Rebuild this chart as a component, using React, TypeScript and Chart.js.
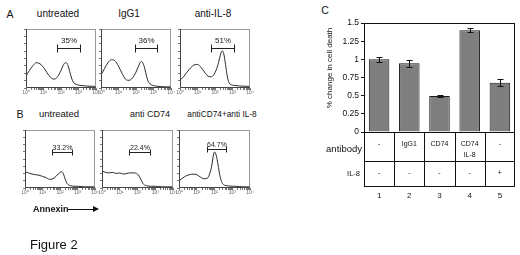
import React, { useEffect, useRef } from "react";
import { Chart, registerables } from "chart.js";

Chart.register(...registerables);

const FONT = "'Liberation Sans', Arial, sans-serif";

// ---------- Panels A/B : annexin histograms (x in log10 units, y = fraction of box height)
const LOG_X = [0, 0.2, 0.4, 0.6, 0.8, 1.0, 1.2, 1.4, 1.6, 1.8, 2.0, 2.1, 2.2, 2.3, 2.4, 2.5, 2.6, 2.7, 2.8, 3.0, 3.2, 3.4, 3.6, 3.8, 4.0];
const A_UNTREATED = [0.2, 0.3, 0.38, 0.43, 0.41, 0.35, 0.26, 0.18, 0.15, 0.19, 0.3, 0.37, 0.42, 0.43, 0.38, 0.28, 0.17, 0.1, 0.07, 0.05, 0.04, 0.035, 0.03, 0.03, 0.025];
const A_IGG1 = [0.22, 0.33, 0.43, 0.48, 0.46, 0.37, 0.25, 0.15, 0.13, 0.17, 0.27, 0.34, 0.41, 0.45, 0.42, 0.33, 0.2, 0.11, 0.07, 0.04, 0.03, 0.025, 0.02, 0.02, 0.02];
const A_ANTI_IL8 = [0.13, 0.19, 0.27, 0.34, 0.39, 0.4, 0.35, 0.27, 0.2, 0.19, 0.26, 0.33, 0.43, 0.55, 0.63, 0.58, 0.4, 0.2, 0.09, 0.05, 0.04, 0.035, 0.03, 0.03, 0.025];
const B_UNTREATED = [0.28, 0.26, 0.24, 0.23, 0.22, 0.2, 0.18, 0.15, 0.16, 0.21, 0.27, 0.28, 0.24, 0.15, 0.08, 0.05, 0.04, 0.035, 0.03, 0.03, 0.025, 0.02, 0.02, 0.02, 0.02];
const B_ANTI_CD74 = [0.29, 0.27, 0.26, 0.27, 0.25, 0.26, 0.24, 0.25, 0.26, 0.26, 0.24, 0.2, 0.14, 0.08, 0.05, 0.04, 0.035, 0.03, 0.03, 0.03, 0.025, 0.02, 0.02, 0.02, 0.02];
const B_CD74_IL8 = [0.13, 0.17, 0.21, 0.23, 0.24, 0.23, 0.19, 0.16, 0.17, 0.32, 0.62, 0.56, 0.4, 0.22, 0.11, 0.06, 0.045, 0.04, 0.035, 0.03, 0.03, 0.025, 0.02, 0.02, 0.02];

const TITLES_A = ["untreated", "IgG1", "anti-IL-8"];
const TITLES_B = ["untreated", "anti CD74", "antiCD74+anti IL-8"];
const BRACKET_START = [1.77, 1.96, 1.77, 1.53, 1.54, 1.56];
const BRACKET_END = [3.1, 3.2, 3.08, 2.67, 2.7, 2.63];
const BRACKET_LEVEL = [0.68, 0.67, 0.68, 0.62, 0.62, 0.67];
const BRACKET_LABELS = ["35%", "36%", "51%", "33.2%", "22.4%", "64.7%"];
const DECADE_LABELS = ["10⁰", "10¹", "10²", "10³", "10⁴"];

// ---------- Panel C : bar chart
const BAR_CATEGORIES = ["1", "2", "3", "4", "5"];
const BAR_VALUES = [1.0, 0.945, 0.495, 1.4, 0.678];
const BAR_ERRORS = [0.03, 0.05, 0.02, 0.03, 0.045];
const Y_TICK_LABELS = ["0", "0.25", "0.5", "0.75", "1", "1.25", "1.5"];
const ANTIBODY_ROW = ["-", "IgG1", "CD74", "CD74\nIL-8", "-"];
const IL8_ROW = ["-", "-", "-", "-", "+"];
const Y_TITLE = "% change in cell death";

type Box = { L: number; R: number; T: number; B: number };

const framePlugin = {
  id: "histFrame",
  afterDraw(chart: any) {
    const { ctx, chartArea: ca } = chart;
    ctx.save();
    ctx.lineWidth = 1;
    ctx.strokeStyle = "#9a9a9a";
    ctx.strokeRect(ca.left + 0.5, ca.top + 0.5, ca.right - ca.left - 1, ca.bottom - ca.top - 1);
    ctx.strokeStyle = "#444";
    ctx.beginPath();
    ctx.moveTo(ca.left + 0.5, ca.top);
    ctx.lineTo(ca.left + 0.5, ca.bottom - 0.5);
    ctx.lineTo(ca.right, ca.bottom - 0.5);
    ctx.stroke();
    ctx.restore();
  },
};

const bracketPlugin = {
  id: "bracket",
  afterDraw(chart: any, _a: any, opts: any) {
    const { ctx } = chart;
    const xs = chart.scales.x;
    const ys = chart.scales.y;
    const i = opts.index;
    const x1 = Math.round(xs.getPixelForValue(BRACKET_START[i])) + 0.5;
    const x2 = Math.round(xs.getPixelForValue(BRACKET_END[i])) + 0.5;
    const y = Math.round(ys.getPixelForValue(BRACKET_LEVEL[i])) + 0.5;
    ctx.save();
    ctx.strokeStyle = "#222";
    ctx.lineWidth = 1;
    ctx.beginPath();
    ctx.moveTo(x1, y);
    ctx.lineTo(x2, y);
    ctx.moveTo(x1, y - opts.cap);
    ctx.lineTo(x1, y + opts.cap);
    ctx.moveTo(x2, y - opts.cap);
    ctx.lineTo(x2, y + opts.cap);
    ctx.stroke();
    ctx.fillStyle = "#222";
    ctx.font = `${opts.fontSize}px ${FONT}`;
    ctx.textAlign = "center";
    ctx.textBaseline = "middle";
    ctx.fillText(BRACKET_LABELS[i], (x1 + x2) / 2, y - opts.gap);
    ctx.restore();
  },
};

function Histogram({ index, values, box, cap, fontSize, gap }: { index: number; values: number[]; box: Box; cap: number; fontSize: number; gap: number }) {
  const ref = useRef<HTMLCanvasElement>(null);
  const YW = 3, PR = 6, PT = 2, XH = 10;
  const width = box.R - box.L + YW + PR;
  const height = box.B - box.T + PT + XH;
  useEffect(() => {
    const chart = new Chart(ref.current as HTMLCanvasElement, {
      type: "line",
      data: {
        datasets: [
          {
            data: LOG_X.map((x, i) => ({ x, y: values[i] })),
            borderColor: "#2a2a2a",
            borderWidth: 1,
            pointRadius: 0,
            tension: 0.4,
            cubicInterpolationMode: "monotone",
            fill: false,
          },
        ],
      },
      options: {
        animation: false,
        responsive: false,
        maintainAspectRatio: false,
        events: [],
        layout: { padding: { top: PT, right: PR, left: 0, bottom: 0 } },
        plugins: {
          legend: { display: false },
          tooltip: { enabled: false },
          bracket: { index, cap, fontSize, gap },
        } as any,
        scales: {
          x: {
            type: "linear",
            min: 0,
            max: 4,
            afterBuildTicks: (s: any) => {
              const t: any[] = [];
              for (let d = 0; d < 4; d++) {
                t.push({ value: d });
                for (let k = 2; k <= 9; k++) t.push({ value: d + Math.log10(k) });
              }
              t.push({ value: 4 });
              s.ticks = t;
            },
            afterFit: (s: any) => {
              s.height = XH;
              s.paddingLeft = 0;
              s.paddingRight = 0;
            },
            grid: { drawOnChartArea: false, tickLength: 2, color: "#777" },
            border: { display: false },
            ticks: {
              autoSkip: false,
              maxRotation: 0,
              padding: 0,
              color: "#666",
              font: { size: 5, family: FONT },
              callback: (v: any) => {
                const n = Number(v);
                return Math.abs(n - Math.round(n)) < 1e-9 ? DECADE_LABELS[Math.round(n)] : "";
              },
            },
          },
          y: {
            min: 0,
            max: 1,
            afterFit: (s: any) => {
              s.width = YW;
              s.paddingTop = 0;
              s.paddingBottom = 0;
            },
            ticks: { display: false, stepSize: 0.125 },
            grid: { drawOnChartArea: false, tickLength: 2, color: "#777" },
            border: { display: false },
          },
        },
      } as any,
      plugins: [framePlugin, bracketPlugin],
    });
    return () => chart.destroy();
  }, []);
  return (
    <canvas
      ref={ref}
      width={width}
      height={height}
      style={{ position: "absolute", left: box.L - YW, top: box.T - PT, width, height }}
    />
  );
}

const barExtrasPlugin = {
  id: "barExtras",
  afterDraw(chart: any) {
    const { ctx, chartArea: ca } = chart;
    const xs = chart.scales.x;
    const ys = chart.scales.y;
    ctx.save();
    ctx.strokeStyle = "#111";
    ctx.lineWidth = 1;
    // frame
    ctx.strokeRect(ca.left + 0.5, ca.top + 0.5, ca.right - ca.left - 1, ca.bottom - ca.top);
    // error bars
    BAR_VALUES.forEach((v, i) => {
      const x = Math.round(xs.getPixelForValue(i)) + 0.5;
      const yt = Math.round(ys.getPixelForValue(v + BAR_ERRORS[i])) + 0.5;
      const yb = Math.round(ys.getPixelForValue(v - BAR_ERRORS[i])) + 0.5;
      ctx.beginPath();
      ctx.moveTo(x, yt);
      ctx.lineTo(x, yb);
      ctx.moveTo(x - 3, yt);
      ctx.lineTo(x + 3, yt);
      ctx.moveTo(x - 3, yb);
      ctx.lineTo(x + 3, yb);
      ctx.stroke();
    });
    // table
    const top = ca.bottom + 0.5;
    const mid = ca.bottom + 29.5;
    const bot = ca.bottom + 54.5;
    const half = (xs.getPixelForValue(1) - xs.getPixelForValue(0)) / 2;
    ctx.beginPath();
    ctx.moveTo(ca.left, top);
    ctx.lineTo(ca.right, top);
    ctx.moveTo(ca.left, mid);
    ctx.lineTo(ca.right, mid);
    ctx.moveTo(ca.left, bot);
    ctx.lineTo(ca.right, bot);
    for (let i = 0; i <= BAR_CATEGORIES.length; i++) {
      const x = Math.round(xs.getPixelForValue(i) - half) + 0.5;
      const xx = i === BAR_CATEGORIES.length ? ca.right - 0.5 : i === 0 ? ca.left + 0.5 : x;
      ctx.moveTo(xx, top);
      ctx.lineTo(xx, bot);
    }
    ctx.stroke();
    ctx.fillStyle = "#111";
    ctx.textAlign = "center";
    ctx.textBaseline = "middle";
    ctx.font = `7px ${FONT}`;
    ANTIBODY_ROW.forEach((t, i) => {
      const x = xs.getPixelForValue(i);
      t.split("\n").forEach((line, j) => ctx.fillText(line, x, ca.bottom + 12 + j * 11.5));
    });
    IL8_ROW.forEach((t, i) => {
      ctx.fillText(t, xs.getPixelForValue(i), ca.bottom + 41);
    });
    ctx.textAlign = "right";
    ctx.font = `9.5px ${FONT}`;
    ctx.fillText("antibody", ca.left - 2, ca.bottom + 17);
    ctx.font = `7.5px ${FONT}`;
    ctx.fillText("IL-8", ca.left - 4, ca.bottom + 42);
    // y title (canvas x 30 -> page x 330)
    ctx.translate(30, 68);
    ctx.rotate(-Math.PI / 2);
    ctx.textAlign = "center";
    ctx.font = `8px ${FONT}`;
    ctx.fillText(Y_TITLE, 0, 0);
    ctx.restore();
  },
};

function BarPanel() {
  const ref = useRef<HTMLCanvasElement>(null);
  const W = 220, H = 210;
  useEffect(() => {
    const chart = new Chart(ref.current as HTMLCanvasElement, {
      type: "bar",
      data: {
        labels: BAR_CATEGORIES,
        datasets: [
          {
            data: BAR_VALUES,
            backgroundColor: "#7f7f7f",
            borderColor: "#1a1a1a",
            borderWidth: 1,
            barPercentage: 0.68,
            categoryPercentage: 1,
          },
        ],
      },
      options: {
        animation: false,
        responsive: false,
        maintainAspectRatio: false,
        events: [],
        layout: { padding: { top: 23, right: 5, left: 0, bottom: 0 } },
        plugins: { legend: { display: false }, tooltip: { enabled: false } },
        scales: {
          x: {
            afterFit: (s: any) => {
              s.height = 78;
              s.paddingLeft = 0;
              s.paddingRight = 0;
            },
            grid: { display: false, drawTicks: false },
            border: { display: false },
            ticks: { padding: 59, color: "#111", font: { size: 8, family: FONT } },
          },
          y: {
            min: 0,
            max: 1.5,
            afterFit: (s: any) => {
              s.width = 64;
              s.paddingTop = 0;
              s.paddingBottom = 0;
            },
            ticks: {
              stepSize: 0.25,
              padding: 2,
              color: "#111",
              font: { size: 8.5, family: FONT },
              callback: (_v: any, i: number) => Y_TICK_LABELS[i],
            },
            grid: { drawOnChartArea: false, tickLength: 3, color: "#111" },
            border: { display: false },
          },
        },
      } as any,
      plugins: [barExtrasPlugin],
    });
    return () => chart.destroy();
  }, []);
  return (
    <canvas ref={ref} width={W} height={H} style={{ position: "absolute", left: 300, top: 0, width: W, height: H }} />
  );
}

function Txt({ x, y, size, children, bold, align }: { x: number; y: number; size: number; children: any; bold?: boolean; align?: string }) {
  const tx = align === "left" ? "0" : "-50%";
  return (
    <div
      style={{
        position: "absolute",
        left: x,
        top: y,
        transform: `translate(${tx}, -50%)`,
        fontFamily: FONT,
        fontSize: size,
        fontWeight: bold ? "bold" : "normal",
        lineHeight: 1,
        whiteSpace: "nowrap",
        color: "#111",
      }}
    >
      {children}
    </div>
  );
}

const BOXES_A: Box[] = [
  { L: 26, R: 96, T: 29, B: 88 },
  { L: 101, R: 171, T: 29, B: 88 },
  { L: 180, R: 250, T: 29, B: 88 },
];
const BOXES_B: Box[] = [
  { L: 25, R: 95, T: 130, B: 188 },
  { L: 102, R: 173, T: 130, B: 188 },
  { L: 179, R: 250, T: 130, B: 188 },
];

export default function App() {
  const seriesA = [A_UNTREATED, A_IGG1, A_ANTI_IL8];
  const seriesB = [B_UNTREATED, B_ANTI_CD74, B_CD74_IL8];
  const titleAX = [58, 129, 213];
  const titleBX = [59, 150, 222];
  const titleBSize = [9.5, 9, 8.3];
  return (
    <div style={{ position: "absolute", left: 0, top: 0, width: 520, height: 255, background: "#fff", overflow: "hidden" }}>
      <Txt x={10} y={14} size={10.5}>A</Txt>
      {TITLES_A.map((t, i) => (
        <Txt key={"ta" + i} x={titleAX[i]} y={14} size={10}>{t}</Txt>
      ))}
      <Txt x={20} y={114} size={10.5}>B</Txt>
      {TITLES_B.map((t, i) => (
        <Txt key={"tb" + i} x={titleBX[i]} y={114} size={titleBSize[i]}>{t}</Txt>
      ))}
      <Txt x={325} y={10} size={10.5}>C</Txt>
      {BOXES_A.map((b, i) => (
        <Histogram key={"ha" + i} index={i} values={seriesA[i]} box={b} cap={4} fontSize={8} gap={8} />
      ))}
      {BOXES_B.map((b, i) => (
        <Histogram key={"hb" + i} index={3 + i} values={seriesB[i]} box={b} cap={3} fontSize={7} gap={4} />
      ))}
      <Txt x={33} y={209} size={9} bold align="left">Annexin</Txt>
      <div style={{ position: "absolute", left: 68, top: 209, width: 26, height: 1.3, background: "#111" }} />
      <div
        style={{
          position: "absolute",
          left: 93,
          top: 206,
          width: 0,
          height: 0,
          borderLeft: "6px solid #111",
          borderTop: "3.5px solid transparent",
          borderBottom: "3.5px solid transparent",
        }}
      />
      <Txt x={30} y={244} size={13} align="left">Figure 2</Txt>
      <BarPanel />
    </div>
  );
}
